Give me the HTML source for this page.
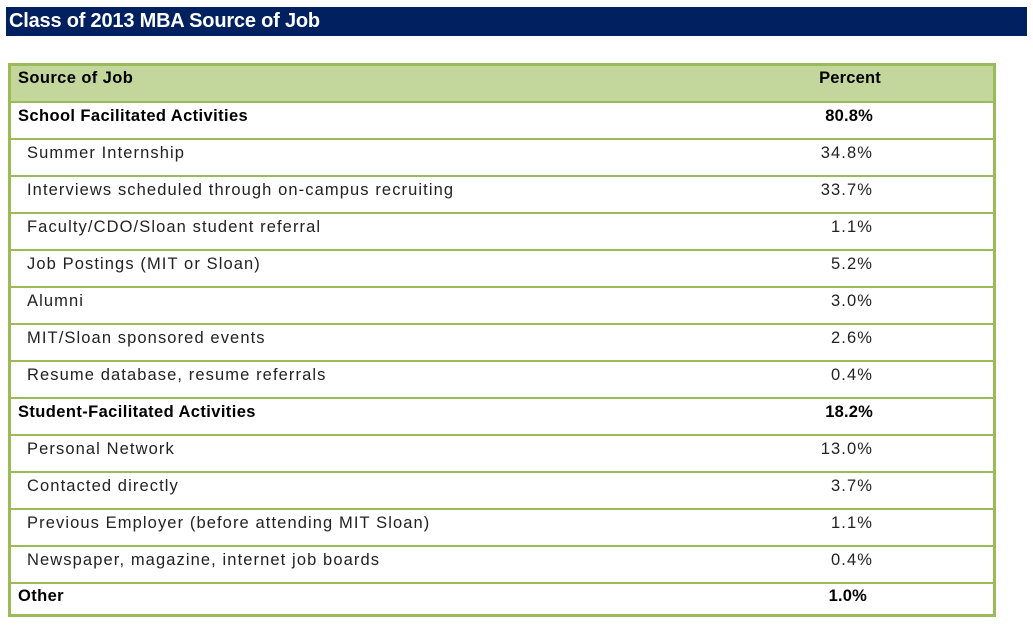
<!DOCTYPE html>
<html><head><style>
body{margin:0;width:1033px;height:631px;background:#fff;position:relative;font-family:"Liberation Sans",sans-serif;overflow:hidden}
.t{position:absolute;left:6px;top:7px;width:1021px;height:29px;background:#002060;color:#fff;font-weight:bold;font-size:20px;line-height:29px;padding-left:3px;box-sizing:border-box;letter-spacing:-0.2px}
.tb{position:absolute;left:8px;top:63px;width:988px;height:554px;border:3px solid #9bbb59;box-sizing:border-box}
.r{position:absolute;left:0;width:982px;height:37px;border-top:2px solid #9bbb59;box-sizing:border-box;font-size:16.5px;color:#222;letter-spacing:1.1px}
.r span{position:absolute;top:4px}
.l{left:16px}.p{right:120px;text-align:right}
.b{font-weight:bold;color:#000;letter-spacing:0.4px}
.b .p{letter-spacing:0.2px}
</style></head><body>
<div class="t">Class of 2013 MBA Source of Job</div>
<div class="tb">
<div class="r b" style="top:0;border-top:none;background:#c3d69b;height:35px"><span class="l" style="left:7px;top:3px">Source of Job</span><span class="p" style="right:112px;top:3px">Percent</span></div>
<div class="r b" style="top:35px"><span class="l" style="left:7px">School Facilitated Activities</span><span class="p">80.8%</span></div>
<div class="r" style="top:72px"><span class="l">Summer Internship</span><span class="p">34.8%</span></div>
<div class="r" style="top:109px"><span class="l">Interviews scheduled through on-campus recruiting</span><span class="p">33.7%</span></div>
<div class="r" style="top:146px"><span class="l">Faculty/CDO/Sloan student referral</span><span class="p">1.1%</span></div>
<div class="r" style="top:183px"><span class="l">Job Postings (MIT or Sloan)</span><span class="p">5.2%</span></div>
<div class="r" style="top:220px"><span class="l">Alumni</span><span class="p">3.0%</span></div>
<div class="r" style="top:257px"><span class="l">MIT/Sloan sponsored events</span><span class="p">2.6%</span></div>
<div class="r" style="top:294px"><span class="l">Resume database, resume referrals</span><span class="p">0.4%</span></div>
<div class="r b" style="top:331px"><span class="l" style="left:7px">Student-Facilitated Activities</span><span class="p">18.2%</span></div>
<div class="r" style="top:368px"><span class="l">Personal Network</span><span class="p">13.0%</span></div>
<div class="r" style="top:405px"><span class="l">Contacted directly</span><span class="p">3.7%</span></div>
<div class="r" style="top:442px"><span class="l">Previous Employer (before attending MIT Sloan)</span><span class="p">1.1%</span></div>
<div class="r" style="top:479px"><span class="l">Newspaper, magazine, internet job boards</span><span class="p">0.4%</span></div>
<div class="r b" style="top:516px;height:32px"><span class="l" style="left:7px;top:3px">Other</span><span class="p" style="right:126px;top:3px">1.0%</span></div>
</div>
</body></html>
